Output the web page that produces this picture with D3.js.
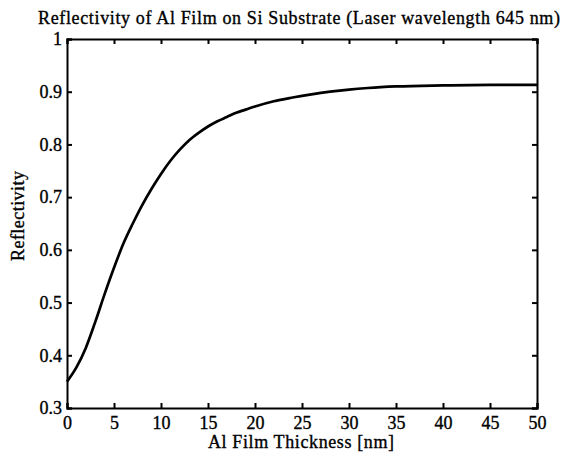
<!DOCTYPE html>
<html>
<head>
<meta charset="utf-8">
<script src="https://cdn.jsdelivr.net/npm/d3@7"></script>
<style>
    body { margin: 0; background: #fff; }
</style>
</head>
<body>
<div id="chart"></div>
<script>
// thickness (nm) and reflectivity
const thickness = [0, 1, 2, 3, 4, 5, 6, 7, 8, 9, 10, 11, 12, 13, 14, 15, 16, 17, 18, 19, 20,
    22, 24, 26, 28, 30, 32, 35, 40, 45, 50];
const reflectivity = [0.350, 0.377, 0.414, 0.463, 0.516, 0.566, 0.612, 0.650, 0.685, 0.716, 0.744,
    0.769, 0.790, 0.808, 0.822, 0.834, 0.844, 0.852, 0.860, 0.866, 0.872,
    0.882, 0.889, 0.895, 0.900, 0.904, 0.907, 0.910, 0.912, 0.913, 0.913];
const xTicks = [0, 5, 10, 15, 20, 25, 30, 35, 40, 45, 50];
const yTicks = [0.3, 0.4, 0.5, 0.6, 0.7, 0.8, 0.9, 1];

const FONT = '"Liberation Serif", "Times New Roman", serif';
const W = 564, H = 454;
const margin = { top: 39, right: 27, bottom: 46, left: 67 };
const iw = W - margin.left - margin.right;
const ih = H - margin.top - margin.bottom;

const svg = d3.select('#chart').append('svg')
    .attr('width', W)
    .attr('height', H);

const g = svg.append('g').attr('transform', `translate(${margin.left},${margin.top})`);

const x = d3.scaleLinear().domain([0, 50]).range([0, iw]);
const y = d3.scaleLinear().domain([0.3, 1]).range([ih, 0]);

// axes with inward ticks (box style)
const fmt = d => String(d);
g.append('g').attr('transform', `translate(0,${ih})`)
    .call(d3.axisBottom(x).tickValues(xTicks).tickSize(-5).tickPadding(8).tickFormat(fmt));
g.append('g')
    .call(d3.axisTop(x).tickValues(xTicks).tickSize(-5).tickFormat(''));
g.append('g')
    .call(d3.axisLeft(y).tickValues(yTicks).tickSize(-5).tickPadding(5).tickFormat(fmt));
g.append('g').attr('transform', `translate(${iw},0)`)
    .call(d3.axisRight(y).tickValues(yTicks).tickSize(-5).tickFormat(''));

g.selectAll('.domain').attr('stroke', '#000').attr('stroke-width', 2);
g.selectAll('.tick line').attr('stroke', '#000').attr('stroke-width', 2);
g.selectAll('.tick text')
    .style('font-family', FONT)
    .style('font-size', '18px')
    .attr('fill', '#000')
    .attr('stroke', '#000')
    .attr('stroke-width', 0.35);

// curve
const pts = thickness.map((t, i) => [t, reflectivity[i]]);
g.append('path')
    .datum(pts)
    .attr('fill', 'none')
    .attr('stroke', '#000')
    .attr('stroke-width', 2.7)
    .attr('d', d3.line().x(d => x(d[0])).y(d => y(d[1])).curve(d3.curveMonotoneX));

// labels
function label(txt, len) {
    return svg.append('text')
        .attr('text-anchor', 'middle')
        .attr('textLength', len)
        .attr('lengthAdjust', 'spacing')
        .attr('stroke', '#000')
        .attr('stroke-width', 0.35)
        .style('font-family', FONT)
        .style('font-size', '18px')
        .text(txt);
}

label('Reflectivity of Al Film on Si Substrate (Laser wavelength 645 nm)', 522)
    .attr('x', 299)
    .attr('y', 24);

label('Al Film Thickness [nm]', 186)
    .attr('x', 301)
    .attr('y', 448);

label('Reflectivity', 90)
    .attr('transform', 'translate(24,216) rotate(-90)');
</script>
</body>
</html>
